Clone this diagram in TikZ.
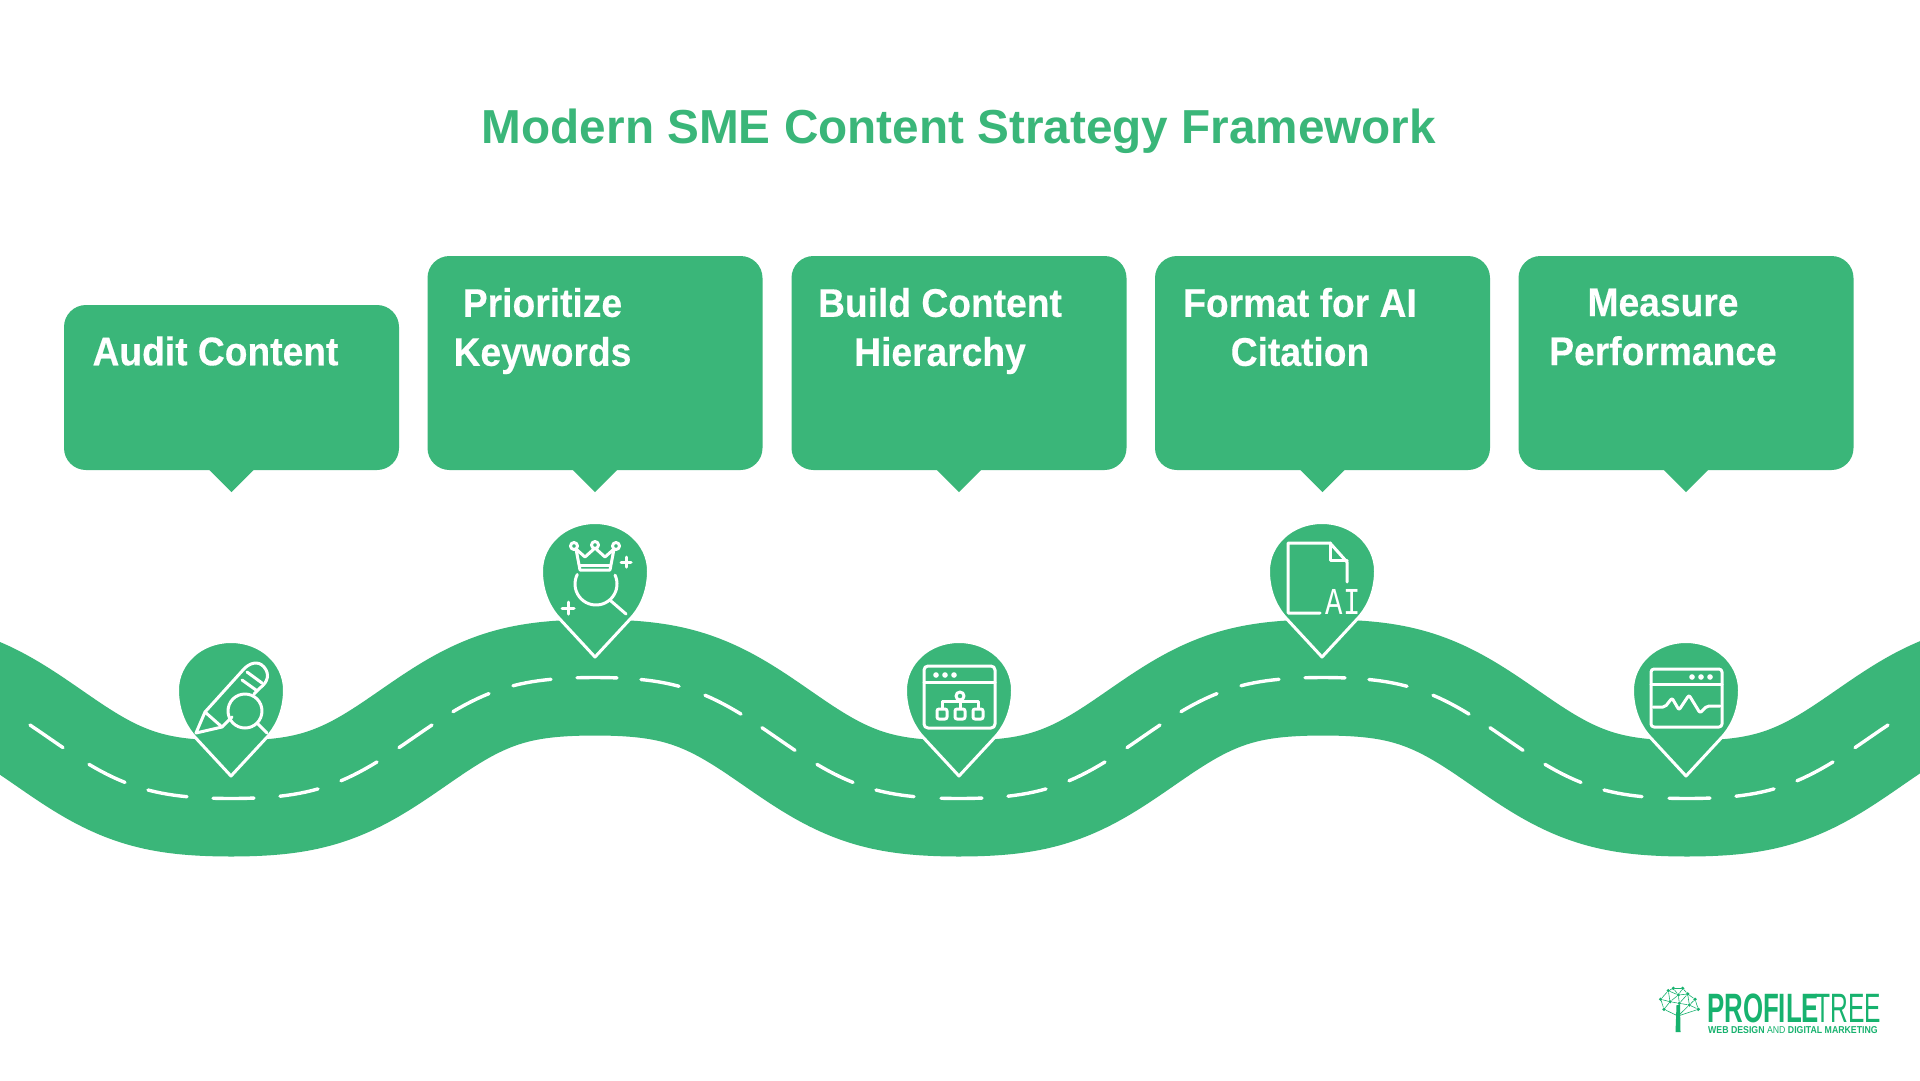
\documentclass[tikz,border=0pt]{standalone}
\usepackage{fontspec}
\setmainfont{Liberation Sans}
\newfontfamily\monoai{Liberation Mono}
\newfontfamily\labelfont[BoldFont={Liberation Sans Bold},BoldFeatures={FakeBold=0.35}]{Liberation Sans}
\definecolor{brand}{HTML}{3AB679}
\definecolor{logogreen}{HTML}{17B26E}
\tikzset{
  declare function={
    roady(\x)=738+65.4*(cos((\x-231)*0.49451)-0.075*cos((\x-231)*1.48352));
  },
  road/.style={draw=brand,line width=116pt,line join=round},
  lanedash/.style={draw=white,line width=3.4pt,line cap=round},
  calloutbox/.style={fill=brand,rounded corners=22pt,minimum width=335pt,inner sep=0pt},
  callouttail/.style={fill=brand},
  calloutlabel/.style={text=white,font=\labelfont\fontsize{40}{49}\selectfont\bfseries,align=center,inner sep=0pt,xscale=0.93},
  titletext/.style={text=brand,font=\fontsize{47.7}{50}\selectfont\bfseries,inner sep=0pt},
  pinbody/.style={fill=brand,draw=white,line width=3pt,line join=round},
  iconline/.style={draw=white,line width=3pt,line cap=round,line join=round},
  icondot/.style={fill=white,draw=none},
  locationpin/.pic={
    \draw[pinbody] (0,133) -- (-38,92) .. controls (-48,80) and (-53.5,64) .. (-53.5,47)
      .. controls (-53.5,20) and (-30,-1.5) .. (0,-1.5)
      .. controls (30,-1.5) and (53.5,20) .. (53.5,47)
      .. controls (53.5,64) and (48,80) .. (38,92) -- cycle;
  },
  logobold/.style={text=logogreen,font=\fontsize{41}{41}\selectfont\bfseries,inner sep=0pt,anchor=base west},
  logothin/.style={text=logogreen,font=\fontsize{41}{41}\selectfont,inner sep=0pt,anchor=base west},
  logosub/.style={text=logogreen,font=\fontsize{10}{10}\selectfont,inner sep=0pt,anchor=base west},
  logoedge/.style={draw=logogreen,line width=0.6pt},
  logonode/.style={circle,fill=logogreen,inner sep=0pt,minimum size=3.6pt},
}
\begin{document}
\begin{tikzpicture}[x=1pt,y=-1pt]
\useasboundingbox (0,0) rectangle (1920,1080);
\fill[white] (0,0) rectangle (1920,1080);
\begin{scope}
\clip (0,0) rectangle (1920,1080);
\draw[road] plot[smooth,domain=-80:2000,samples=260] (\x,{roady(\x)});
\end{scope}
% lane markings
\foreach \a/\b in {30/63,89/125,148/187,213/254,280/318,341/377,399/432,453/489,513/551,577/617,641/679,705/741,762/795,817/853,876/914,941/982,1008/1046,1069/1105,1127/1160,1181/1217,1241/1279,1305/1345,1369/1407,1433/1469,1490/1523,1545/1581,1604/1642,1669/1710,1736/1774,1797/1833,1855/1888}{
  \draw[lanedash] plot[domain=\a:\b,samples=7] (\x,{roady(\x)});
}
% title
\node[titletext] (title) at (959,131) {Modern SME Content Strategy Framework};
% callouts
\node[calloutbox,minimum height=165pt] (c1) at (231.5,387.5) {};
\node[calloutbox,minimum height=214pt] (c2) at (595,363) {};
\node[calloutbox,minimum height=214pt] (c3) at (959,363) {};
\node[calloutbox,minimum height=214pt] (c4) at (1322.5,363) {};
\node[calloutbox,minimum height=214pt] (c5) at (1686,363) {};
\foreach \n in {c1,c2,c3,c4,c5}{
  \fill[callouttail] ([xshift=-23pt,yshift=1pt]\n.south) -- ([xshift=23pt,yshift=1pt]\n.south) -- ([yshift=-22pt]\n.south) -- cycle;
}
\node[calloutlabel] (t1) at (215.5,351) {Audit Content};
\node[calloutlabel] (t2) at (542.5,331) {Prioritize\\Keywords};
\node[calloutlabel] (t3) at (940,331) {Build Content\\Hierarchy};
\node[calloutlabel] (t4) at (1300,327) {Format for AI\\Citation};
\node[calloutlabel] (t5) at (1663,327) {Measure\\Performance};
% pins
\pic at (231,643) {locationpin};
\pic at (595,524) {locationpin};
\pic at (959,643) {locationpin};
\pic at (1322,524) {locationpin};
\pic at (1686,643) {locationpin};
% icon 1: pencil and magnifier
\begin{scope}[shift={(231,643)}]
  \draw[iconline] (-26,69) -- (-35,90) -- (-9,84) -- cycle;
  \draw[iconline] (-26,69) -- (12,27) .. controls (18,20) and (27,17) .. (33,24) .. controls (39,31) and (37,39) .. (29,45) -- (23,51);
  \draw[iconline] (-9,84) -- (1,74);
  \draw[iconline] (11,37) -- (25,47);
  \draw[iconline] (16,29) -- (31,40);
  \draw[iconline] (14,68) circle[radius=17pt];
  \draw[iconline] (26,80) -- (36,90);
\end{scope}
% icon 2: crown and magnifier
\begin{scope}[shift={(595,524)}]
  \draw[iconline] (-19,25) -- (-15,46) -- (15,46) -- (19,25) -- (10,33) -- (0,24) -- (-10,33) -- cycle;
  \draw[iconline] (-15,41) -- (15,41);
  \draw[iconline,fill=brand] (-21,22) circle[radius=3.5pt];
  \draw[iconline,fill=brand] (0,21) circle[radius=3.5pt];
  \draw[iconline,fill=brand] (21,22) circle[radius=3.5pt];
  \draw[iconline] plot[smooth,domain=-25:207,samples=30] ({1+21*cos(\x)},{60+21*sin(\x)});
  \draw[iconline] (16,77) -- (31,90);
  \draw[iconline] (26,38) -- (36,38) (31,33) -- (31,43);
  \draw[iconline] (-33,84) -- (-21,84) (-27,78) -- (-27,90);
\end{scope}
% icon 3: browser with hierarchy
\begin{scope}[shift={(959,643)}]
  \draw[iconline,rounded corners=4pt] (-35,23) rectangle (36,85);
  \draw[iconline] (-35,39) -- (36,39);
  \foreach \d in {-23,-14,-5}{\fill[icondot] (\d,32) circle[radius=2.8pt];}
  \draw[iconline] (-17,66) -- (-17,58) -- (19,58) -- (19,66) (1,58) -- (1,66);
  \draw[iconline,fill=brand] (1,53) circle[radius=4pt];
  \foreach \d in {-17,1,19}{\draw[iconline,fill=brand,rounded corners=2pt] (\d-5,66) rectangle (\d+5,76);}
\end{scope}
% icon 4: document AI
\begin{scope}[shift={(1322,524)}]
  \draw[iconline,line join=round] (-2,89) -- (-34,89) -- (-34,19) -- (8,19) -- (25,38) -- (25,58);
  \draw[iconline] (8,19) -- (8,36) -- (25,36);
  \node[text=white,inner sep=0pt,font=\monoai\fontsize{38}{38}\selectfont] (aitext) at (21,78) {\scalebox{0.76}[1]{AI}};
\end{scope}
% icon 5: browser with graph
\begin{scope}[shift={(1686,643)}]
  \draw[iconline,rounded corners=3pt] (-35,26) rectangle (36,84);
  \draw[iconline] (-35,41) -- (36,41);
  \foreach \d in {6,15,24}{\fill[icondot] (\d,34) circle[radius=2.8pt];}
  \draw[iconline,rounded corners=2pt] (-33,64) -- (-21,64) -- (-14,55) -- (-7,67) -- (3,52) -- (14,70) -- (21,63) -- (34,63);
\end{scope}
% logo
\node[logonode] (l1) at (1660.7,999.3) {};
\node[logonode] (l2) at (1668.3,990.7) {};
\node[logonode] (l3) at (1673.3,988.3) {};
\node[logonode] (l4) at (1682.7,988.3) {};
\node[logonode] (l5) at (1678.3,995) {};
\node[logonode] (l6) at (1687.7,994) {};
\node[logonode] (l7) at (1695,999.3) {};
\node[logonode] (l8) at (1670,1001.7) {};
\node[logonode] (l9) at (1679.3,1003.3) {};
\node[logonode] (l10) at (1689.3,1005) {};
\node[logonode] (l11) at (1698.3,1009.3) {};
\node[logonode] (l12) at (1664,1009.3) {};
\coordinate (lt) at (1678,1016);
\foreach \p/\q in {l1/l2,l2/l3,l3/l4,l4/l6,l6/l7,l7/l11,l1/l12,l1/l8,l2/l5,l3/l5,l4/l5,l5/l6,l5/l8,l5/l9,l8/l9,l8/l12,l9/l6,l9/l10,l6/l10,l10/l7,l10/l11,l2/l8,l12/lt,l11/lt,l9/lt,l10/lt}{
  \draw[logoedge] (\p) -- (\q);
}
\fill[logogreen] (1676.5,1005) -- (1680,1005) -- (1680.5,1032) -- (1675.5,1032) -- cycle;
\node[logobold] (lg1) at (1707,1022) {\scalebox{0.63}[1]{PROFILE}};
\node[logothin] (lg2) at (1815,1022) {\scalebox{0.6}[1]{TREE}};
\node[logosub] (lg3) at (1708,1033) {\scalebox{0.875}[1]{\textbf{WEB DESIGN} AND \textbf{DIGITAL MARKETING}}};
\end{tikzpicture}
\end{document}
